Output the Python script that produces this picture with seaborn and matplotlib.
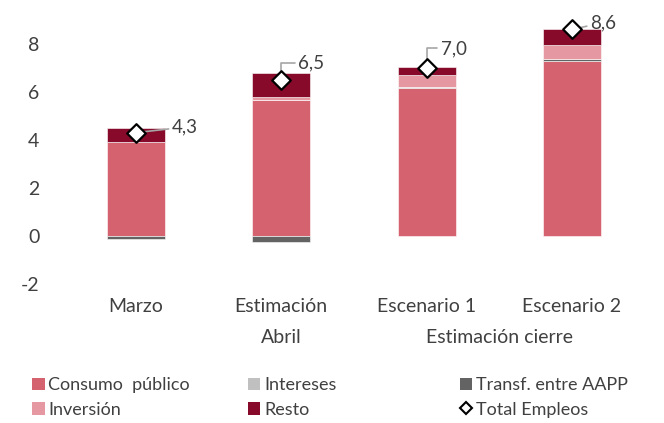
import numpy as np
import pandas as pd
import matplotlib
matplotlib.use("Agg")
import matplotlib.pyplot as plt
import seaborn as sns
from matplotlib.patches import Patch
from matplotlib.lines import Line2D
import matplotlib.transforms as mtransforms

# Data (% del PIB)
categories = ["Marzo", "Estimación", "Escenario 1", "Escenario 2"]
consumo = [3.9, 5.65, 6.15, 7.3]
intereses = [0.0, 0.0, 0.04, 0.0]
transf = [-0.15, -0.25, 0.0, 0.05]
inversion = [0.0, 0.12, 0.5, 0.6]
resto = [0.6, 1.0, 0.35, 0.65]
total = [4.3, 6.5, 7.0, 8.6]
total_labels = ["4,3", "6,5", "7,0", "8,6"]

series = [
    ("Consumo  público", consumo, "#D4626F"),
    ("Intereses", intereses, "#A0A0A0"),
    ("Transf. entre AAPP", transf, "#636363"),
    ("Inversión", inversion, "#E598A1"),
    ("Resto", resto, "#880A2A"),
]

sns.set_theme(style="white")
plt.rcParams["font.family"] = ["Lato", "DejaVu Sans"]
txt = "#404040"

fig = plt.figure(figsize=(6.64, 4.23), dpi=100)
ax = fig.add_axes([0.095, 0.329, 0.876, 0.624])

x = np.arange(len(categories))
pos_bottom = np.zeros(len(categories))
neg_bottom = np.zeros(len(categories))
for name, vals, color in series:
    vals = np.array(vals, dtype=float)
    bottom = np.where(vals >= 0, pos_bottom, neg_bottom)
    ax.bar(x, vals, width=0.4, bottom=bottom, color=color,
           edgecolor="white", linewidth=0.4)
    pos_bottom += np.where(vals >= 0, vals, 0)
    neg_bottom += np.where(vals < 0, vals, 0)

df_tot = pd.DataFrame({"x": x, "total": total})
sns.scatterplot(data=df_tot, x="x", y="total", marker="D", s=90,
                color="white", edgecolor="black", linewidth=1.6,
                ax=ax, zorder=5, clip_on=False, legend=False)

offsets = [(26, 4), (12, 12), (10, 14), (13, 5)]
for xi, yi, lab, off in zip(x, total, total_labels, offsets):
    ax.annotate(lab, xy=(xi, yi), xytext=off, textcoords="offset points",
                fontsize=13.5, color=txt, va="center", ha="left",
                arrowprops=dict(arrowstyle="-", color="#A6A6A6", lw=1.2,
                                shrinkA=0, shrinkB=0,
                                connectionstyle="angle,angleA=0,angleB=90,rad=0"
                                if off[1] > 8 else "arc3"),
                zorder=4)

ax.set_xlim(-0.5, 3.5)
ax.set_ylim(-2, 9)
ax.set_yticks([-2, 0, 2, 4, 6, 8])
ax.set_yticklabels(["-2", "0", "2", "4", "6", "8"])
ax.set_xticks(x)
ax.set_xticklabels(categories)
ax.tick_params(axis="both", labelsize=14, labelcolor=txt, length=0)
ax.tick_params(axis="x", pad=10)
ax.tick_params(axis="y", pad=17)
ax.set_xlabel("")
ax.set_ylabel("")
sns.despine(ax=ax, left=True, bottom=True)

trans = mtransforms.blended_transform_factory(ax.transData, ax.transAxes)
ax.text(1, -0.205, "Abril", transform=trans, ha="center", va="center",
        fontsize=14, color=txt)
ax.text(2.5, -0.205, "Estimación cierre", transform=trans, ha="center",
        va="center", fontsize=14, color=txt)

# legend in three columns
def sq(color):
    return Patch(facecolor=color, edgecolor="none")

cols = [
    ([sq("#D4626F"), sq("#E598A1")], ["Consumo  público", "Inversión"], 0.04),
    ([sq("#C0C0C0"), sq("#880A2A")], ["Intereses", "Resto"], 0.365),
    ([sq("#636363"),
      Line2D([], [], marker="D", color="none", markerfacecolor="white",
             markeredgecolor="black", markeredgewidth=1.5, markersize=6)],
     ["Transf. entre AAPP", "Total Empleos"], 0.684),
]
for handles, labels, xpos in cols:
    leg = fig.legend(handles, labels, loc="lower left",
                     bbox_to_anchor=(xpos, 0.0), frameon=False,
                     fontsize=13, handlelength=0.7, handleheight=0.7,
                     handletextpad=0.2, labelspacing=0.45, borderpad=0.2,
                     borderaxespad=0.1)
    for t in leg.get_texts():
        t.set_color(txt)

fig.savefig("out.png", dpi=100)
